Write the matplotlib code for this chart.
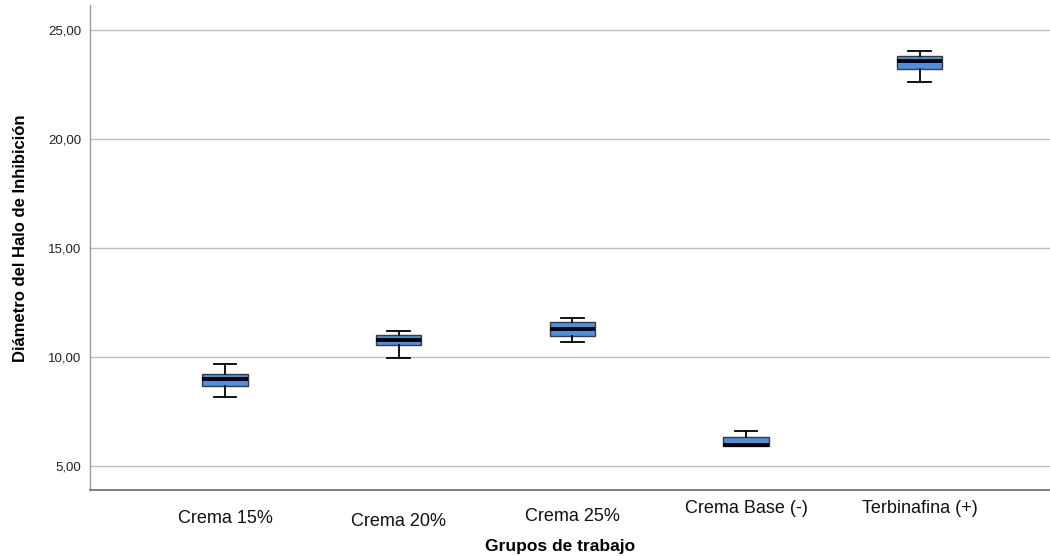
import matplotlib
matplotlib.use("Agg")
import matplotlib.pyplot as plt
from matplotlib import transforms

# Diámetro del halo de inhibición por grupo (mm): resumen de cada caja
groups = ["Crema 15%", "Crema 20%", "Crema 25%", "Crema Base (-)", "Terbinafina (+)"]
whislo = [8.18, 9.97, 10.67, 5.90, 22.60]
q1 = [8.68, 10.57, 10.95, 5.92, 23.20]
med = [8.98, 10.76, 11.27, 5.95, 23.59]
q3 = [9.22, 11.01, 11.59, 6.32, 23.81]
whishi = [9.67, 11.19, 11.81, 6.62, 24.04]
yticks = [5, 10, 15, 20, 25]
ytick_labels = ["5,00", "10,00", "15,00", "20,00", "25,00"]
# small vertical offsets (points) of the category labels
label_dy = [-2, -4.5, -1, 5, 5]

stats = [
    dict(label=g, whislo=a, q1=b, med=c, q3=d, whishi=e, fliers=[])
    for g, a, b, c, d, e in zip(groups, whislo, q1, med, q3, whishi)
]

plt.rcParams["font.family"] = ["Liberation Sans", "DejaVu Sans"]

fig = plt.figure(figsize=(10.5, 5.56), dpi=100)
ax = fig.add_axes([0.0857, 0.1187, 0.9143, 0.8723])

positions = list(range(1, len(groups) + 1))
ax.bxp(
    stats,
    positions=positions,
    widths=0.26,
    patch_artist=True,
    showfliers=False,
    boxprops=dict(facecolor="#4a8fe3", edgecolor="#3a3a3a", linewidth=1.0),
    medianprops=dict(color="black", linewidth=2.8),
    whiskerprops=dict(color="black", linewidth=1.3),
    capprops=dict(color="black", linewidth=1.3),
    capwidths=0.13,
    zorder=3,
)

ax.set_xlim(0.223, 5.75)
ax.set_ylim(3.9, 26.15)
ax.set_yticks(yticks)
ax.set_yticklabels(ytick_labels, fontsize=9.5, color="#222222")
ax.yaxis.grid(True, color="#bdbdbd", linewidth=1.0)
ax.set_axisbelow(True)
ax.tick_params(axis="y", length=0, pad=6)

ax.set_xticks(positions)
ax.set_xticklabels([])
ax.tick_params(axis="x", length=0)
trans = transforms.blended_transform_factory(ax.transData, ax.transAxes)
for x, g, dy in zip(positions, groups, label_dy):
    off = transforms.ScaledTranslation(0, dy / 72, fig.dpi_scale_trans)
    ax.text(x, -0.035, g, transform=trans + off, ha="center", va="top",
            fontsize=13, color="#111111")

ax.set_ylabel("Diámetro del Halo de Inhibición", fontsize=12,
              fontweight="bold")
ax.yaxis.set_label_coords(-0.065, 0.52)
ax.set_xlabel("Grupos de trabajo", fontsize=12.5, fontweight="bold")
ax.xaxis.set_label_coords(0.49, -0.1)

for side in ["top", "right"]:
    ax.spines[side].set_visible(False)
ax.spines["left"].set_color("#9a9a9a")
ax.spines["bottom"].set_color("#6a6a6a")
ax.spines["left"].set_linewidth(1.0)
ax.spines["bottom"].set_linewidth(1.2)

fig.savefig("out.png", dpi=100)
